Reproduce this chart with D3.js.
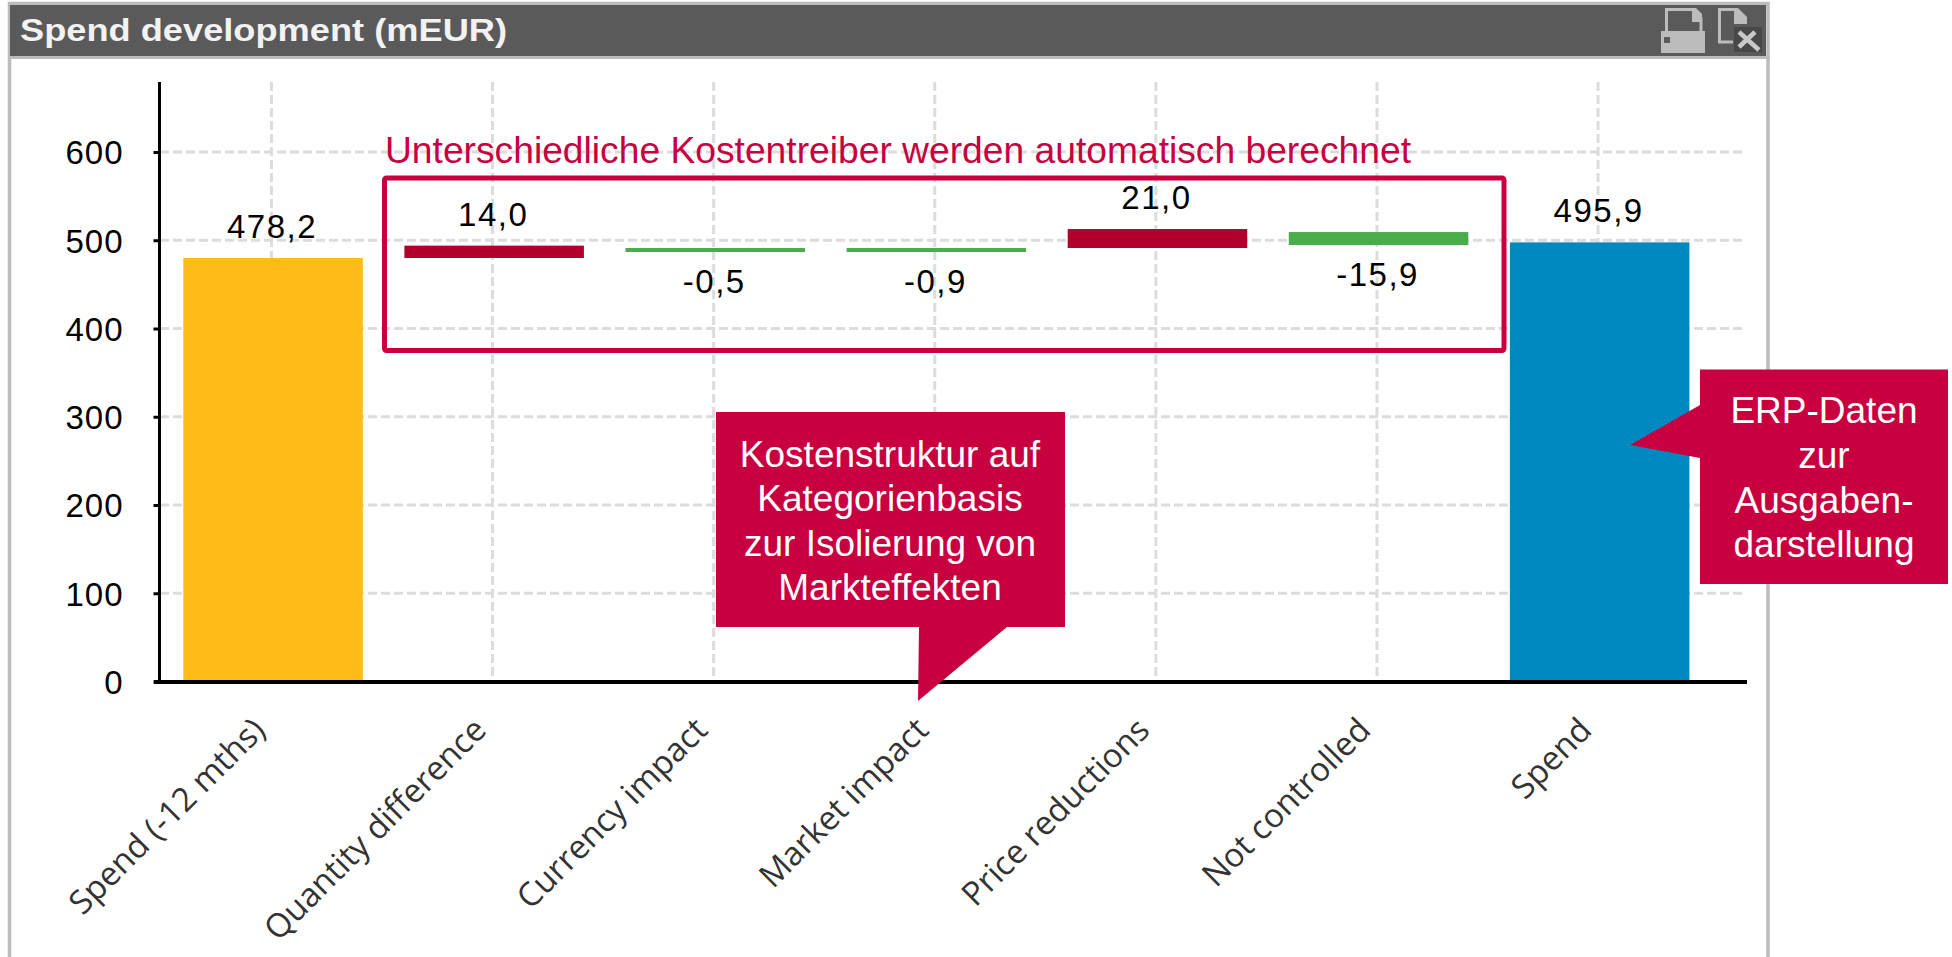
<!DOCTYPE html>
<html>
<head>
<meta charset="utf-8">
<script src="https://cdn.jsdelivr.net/npm/d3@7"></script>
<style>
	html, body { margin: 0; padding: 0; background: #fff; overflow: hidden; }
	text { font-family: "Liberation Sans", Arial, sans-serif; }
</style>
</head>
<body>
<svg id="chart"></svg>
<script>
// values
var categories = ["Spend (-12 mths)", "Quantity difference", "Currency impact", "Market impact", "Price reductions", "Not controlled", "Spend"];
var barLow = [0, 478.2, 485, 485, 489.5, 492.9, 0];
var barHigh = [478.2, 492.2, 489.5, 489.5, 511, 507.6, 495.9];
var barLabels = ["478,2", "14,0", "-0,5", "-0,9", "21,0", "-15,9", "495,9"];
var barColors = ["#ffbc17", "#b2002d", "#4bac4b", "#4bac4b", "#b2002d", "#4bac4b", "#0088c0"];
var yTicks = [0, 100, 200, 300, 400, 500, 600];

var title = "Spend development (mEUR)";
var boxTitle = "Unterschiedliche Kostentreiber werden automatisch berechnet";
var noteMarket = ["Kostenstruktur auf", "Kategorienbasis", "zur Isolierung von", "Markteffekten"];
var noteErp = ["ERP-Daten", "zur", "Ausgaben-", "darstellung"];

var width = 1952, height = 957;
var RED = "#c8003f";
var gridShift = 1.5;

var svg = d3.select("#chart").attr("width", width).attr("height", height);

var x = d3.scaleBand()
	.domain(categories)
	.range([162.5, 1710.2])
	.paddingInner(0.188)
	.paddingOuter(0.094);

var y = d3.scaleLinear()
	.domain([0, 600])
	.range([680, 150.5]);

// panel frame
svg.append("rect").attr("x", 9.5).attr("y", 3.5).attr("width", 1758.5).attr("height", 970)
	.attr("fill", "#fff").attr("stroke", "#bcbcbc").attr("stroke-width", 3.5);
svg.append("rect").attr("x", 10).attr("y", 5).attr("width", 1756).attr("height", 51).attr("fill", "#5a5a5a");
svg.append("line").attr("x1", 8).attr("x2", 1770).attr("y1", 57.5).attr("y2", 57.5)
	.attr("stroke", "#bcbcbc").attr("stroke-width", 3);

svg.append("text").attr("x", 20).attr("y", 41)
	.attr("textLength", 487).attr("lengthAdjust", "spacingAndGlyphs")
	.style("font-size", "32px").style("font-weight", "bold").attr("fill", "#f2f2f2")
	.text(title);

// header icons
var icons = svg.append("g");
icons.append("path").attr("d", "M1666.5 32V9.5H1693L1701 18V32").attr("fill", "none").attr("stroke", "#bcbcbc").attr("stroke-width", 3);
icons.append("path").attr("d", "M1692 8H1696L1702 14V22H1692Z").attr("fill", "#bcbcbc");
icons.append("rect").attr("x", 1661).attr("y", 31).attr("width", 44).attr("height", 22).attr("fill", "#bcbcbc");
icons.append("rect").attr("x", 1664).attr("y", 37).attr("width", 6).attr("height", 6).attr("fill", "#5a5a5a");
icons.append("path").attr("d", "M1733 42H1719.5V9.5H1735L1746 21").attr("fill", "none").attr("stroke", "#bcbcbc").attr("stroke-width", 3);
icons.append("path").attr("d", "M1734 8H1738L1747 17V24H1734Z").attr("fill", "#bcbcbc");
icons.append("rect").attr("x", 1734).attr("y", 27).attr("width", 28).attr("height", 25).attr("fill", "#484848");
icons.append("path").attr("d", "M1739 32L1759 50M1755 32L1739 47").attr("stroke", "#c8c8c8").attr("stroke-width", 4.5);

// grid
var grid = svg.append("g").attr("fill", "none").attr("stroke", "#dcdcdc").attr("stroke-width", 3).attr("stroke-dasharray", "9,4");
grid.selectAll("line.h")
	.data(yTicks.filter(function(d) { return d > 0; }))
	.enter().append("line").attr("class", "h")
	.attr("x1", 160).attr("x2", 1744)
	.attr("y1", function(d) { return y(d) + gridShift; })
	.attr("y2", function(d) { return y(d) + gridShift; });
grid.selectAll("line.v")
	.data(categories)
	.enter().append("line").attr("class", "v")
	.attr("x1", function(d) { return x(d) + x.bandwidth() / 2 - 1.6; })
	.attr("x2", function(d) { return x(d) + x.bandwidth() / 2 - 1.6; })
	.attr("y1", 82).attr("y2", 680);

// bars
svg.selectAll("rect.bar")
	.data(categories)
	.enter().append("rect").attr("class", "bar")
	.attr("x", function(d) { return x(d); })
	.attr("width", x.bandwidth())
	.attr("y", function(d, i) { return y(barHigh[i]); })
	.attr("height", function(d, i) { return y(barLow[i]) - y(barHigh[i]); })
	.attr("fill", function(d, i) { return barColors[i]; });

// value labels, negative ones go below the bar
svg.selectAll("text.val")
	.data(categories)
	.enter().append("text").attr("class", "val")
	.attr("x", function(d) { return x(d) + x.bandwidth() / 2 - 1; })
	.attr("y", function(d, i) {
		return barLabels[i][0] == "-" ? y(barLow[i]) + 41 : y(barHigh[i]) - 20;
	})
	.attr("text-anchor", "middle")
	.style("font-size", "33px").style("letter-spacing", "1.5px")
	.attr("fill", "#000")
	.text(function(d, i) { return barLabels[i]; });

// axes
var yAxis = d3.axisLeft(y).tickValues(yTicks).tickSize(6).tickPadding(30);
var gy = svg.append("g").attr("transform", "translate(159.5," + gridShift + ")").call(yAxis);
gy.select(".domain").remove();
gy.selectAll(".tick line").attr("stroke", "#000").attr("stroke-width", 3);
gy.selectAll(".tick text").style("font-size", "33px").style("letter-spacing", "1px").attr("fill", "#000")
	.attr("font-family", null).attr("dy", "0.36em");

var xAxis = d3.axisBottom(x).tickSize(0);
var gx = svg.append("g").attr("transform", "translate(0,682)").call(xAxis);
gx.select(".domain").remove();
gx.selectAll(".tick text")
	.attr("y", 0).attr("dy", 0)
	.attr("transform", "translate(-6,50) rotate(-45)")
	.attr("text-anchor", "end")
	.style("font-family", "'Open Sans', sans-serif").style("font-size", "33px")
	.attr("fill", "#333");

svg.append("line").attr("x1", 159.5).attr("x2", 159.5).attr("y1", 82).attr("y2", 682)
	.attr("stroke", "#000").attr("stroke-width", 3);
svg.append("line").attr("x1", 154).attr("x2", 1747).attr("y1", 682).attr("y2", 682)
	.attr("stroke", "#000").attr("stroke-width", 4);

// red box with heading
svg.append("rect").attr("x", 384.5).attr("y", 178).attr("width", 1119.5).attr("height", 172.5).attr("rx", 2)
	.attr("fill", "none").attr("stroke", RED).attr("stroke-width", 5);
svg.append("text").attr("x", 385).attr("y", 163)
	.attr("textLength", 1026).attr("lengthAdjust", "spacingAndGlyphs")
	.style("font-size", "37px").attr("fill", RED)
	.text(boxTitle);

// callouts
function callout(shape, lines, cx, baselines) {
	var g = svg.append("g");
	g.append("path").attr("d", shape).attr("fill", RED);
	g.selectAll("text")
		.data(lines)
		.enter().append("text")
		.attr("x", cx)
		.attr("y", function(d, i) { return baselines[i]; })
		.attr("text-anchor", "middle")
		.style("font-size", "37px").attr("fill", "#fff")
		.text(function(d) { return d; });
}
callout("M716 412H1065V627H1007L918 701L919 627H716Z", noteMarket, 890, [466.7, 511, 555.7, 600]);
callout("M1700 369.5H1948V584H1700V458L1630 445L1700 405Z", noteErp, 1824, [423, 468, 512.7, 557]);
</script>
</body>
</html>
